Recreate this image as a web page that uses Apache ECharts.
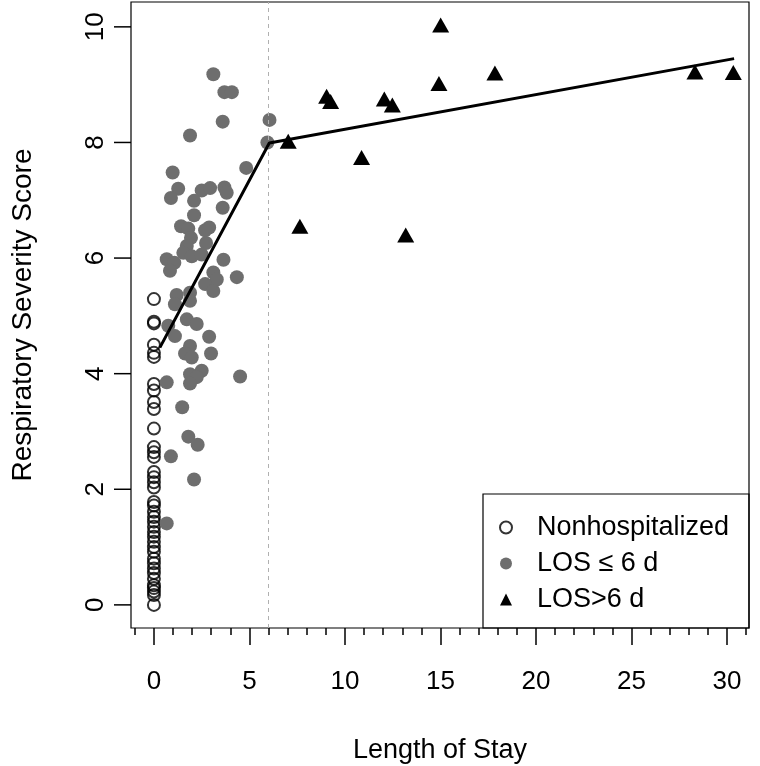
<!DOCTYPE html>
<html>
<head>
    <meta charset="utf-8">
    <title>Respiratory Severity Score vs Length of Stay</title>
    <style>
        body { margin: 0; background: #fff; }
        #chart { width: 760px; height: 766px; }
    </style>
</head>
<body>
<div id="chart"></div>
<script src="https://cdn.jsdelivr.net/npm/echarts@6/dist/echarts.min.js"></script>
<script>
    // open circles, all at LOS = 0
    var nonHospY = [5.29, 4.9, 4.87, 4.5, 4.36, 4.29, 3.82, 3.71, 3.51, 3.39, 3.05, 2.73, 2.64, 2.56,
        2.30, 2.21, 2.12, 2.03, 1.78, 1.72, 1.61, 1.52, 1.44, 1.35, 1.26, 1.18, 1.09, 1.0, 0.92,
        0.80, 0.72, 0.63, 0.55, 0.45, 0.34, 0.29, 0.23, 0.17, 0.0];

    // LOS <= 6 d
    var shortX = [3.11, 3.69, 4.08, 3.60, 6.05, 1.89, 5.94, 4.83, 0.98, 1.27, 2.50, 2.94, 3.69, 3.81, 0.89, 2.10,
        3.60, 2.10, 1.42, 1.80, 2.89, 2.68, 1.94, 2.73, 1.72, 1.54, 1.98, 2.50, 0.67, 1.07, 3.64, 0.84,
        3.11, 4.34, 3.29, 2.68, 3.11, 1.19, 1.89, 1.10, 1.89, 0.75, 1.72, 2.24, 1.10, 2.89, 1.89, 2.99,
        1.63, 1.98, 1.89, 2.50, 2.24, 1.89, 0.67, 4.51, 1.48, 1.80, 2.29, 0.89, 2.10, 0.67];
    var shortY = [9.18, 8.87, 8.87, 8.36, 8.39, 8.12, 8.0, 7.56, 7.48, 7.2, 7.17, 7.21, 7.22, 7.13, 7.04, 6.99,
        6.87, 6.74, 6.55, 6.51, 6.53, 6.48, 6.35, 6.26, 6.21, 6.09, 6.03, 6.06, 5.98, 5.92, 5.97, 5.78,
        5.75, 5.67, 5.63, 5.55, 5.43, 5.36, 5.40, 5.2, 5.26, 4.83, 4.94, 4.86, 4.65, 4.64, 4.48, 4.35,
        4.35, 4.28, 3.99, 4.05, 3.94, 3.83, 3.85, 3.95, 3.42, 2.91, 2.77, 2.57, 2.17, 1.41];

    // LOS > 6 d
    var longX = [15.01, 17.85, 28.32, 30.33, 14.92, 9.04, 9.25, 12.06, 12.48, 7.03, 10.87, 7.64, 13.18];
    var longY = [10.03, 9.2, 9.22, 9.21, 9.02, 8.8, 8.71, 8.75, 8.65, 8.02, 7.74, 6.55, 6.4];

    // piecewise fit
    var fitX = [0.31, 6.04, 30.37];
    var fitY = [4.45, 7.99, 9.45];

    var majorTicks = [0, 5, 10, 15, 20, 25, 30];
    var minorTicks = [];
    for (var t = -1; t <= 31; t++) minorTicks.push(t);
    var yTicks = [0, 2, 4, 6, 8, 10];

    var xMin = -1.2, xMax = 31.15;
    var yMin = -0.4, yMax = 10.43;

    function pairs(xs, ys) {
        return ys.map(function (y, i) { return [xs === null ? 0 : xs[i], y]; });
    }

    var font = 'Liberation Sans, Arial, Helvetica, sans-serif';
    var chart = echarts.init(document.getElementById('chart'));

    var noLine = { show: false, onZero: false };

    // one axis per job: labels, long ticks, short ticks
    function xAxisPart(extra) {
        return Object.assign({
            type: 'value', min: xMin, max: xMax, position: 'bottom',
            axisLine: noLine, splitLine: { show: false },
            axisTick: { show: false }, axisLabel: { show: false }
        }, extra);
    }

    chart.setOption({
        animation: false,
        backgroundColor: '#fff',
        textStyle: { fontFamily: font, color: '#000' },
        grid: {
            left: 131, right: 11, top: 2, bottom: 138,
            outerBoundsMode: 'none',
            containLabel: false,
            show: true, borderColor: '#000', borderWidth: 1.2
        },
        xAxis: [
            xAxisPart({
                name: 'Length of Stay',
                nameLocation: 'middle',
                nameGap: 109,
                nameTextStyle: { fontSize: 27, color: '#000', fontFamily: font },
                axisLabel: { show: true, customValues: majorTicks, fontSize: 26, color: '#000', margin: 41, fontFamily: font }
            }),
            xAxisPart({ axisTick: { show: true, length: 17, customValues: majorTicks, lineStyle: { color: '#000', width: 1.5 } } }),
            xAxisPart({ axisTick: { show: true, length: 7, customValues: minorTicks, lineStyle: { color: '#000', width: 1.5 } } })
        ],
        yAxis: {
            type: 'value', min: yMin, max: yMax, position: 'left',
            axisLine: noLine, splitLine: { show: false },
            axisTick: { show: false },
            name: 'Respiratory Severity Score',
            nameLocation: 'middle',
            nameGap: 94,
            nameTextStyle: { fontSize: 28, color: '#000', fontFamily: font },
            axisLabel: { show: true, customValues: yTicks, fontSize: 26, color: '#000', rotate: 90, margin: 22, fontFamily: font }
        },
        legend: {
            orient: 'vertical',
            left: 494, top: 509,
            itemWidth: 12, itemHeight: 12,
            itemGap: 9,
            selectedMode: false,
            textStyle: { fontSize: 27, color: '#000', lineHeight: 27, padding: [0, 0, 0, 20], fontFamily: font },
            data: [
                { name: 'Nonhospitalized', icon: 'circle' },
                { name: 'LOS \u2264 6 d', icon: 'circle' },
                { name: 'LOS>6 d', icon: 'triangle' }
            ]
        },
        graphic: [{
            type: 'rect',
            shape: { x: 483, y: 494, width: 266, height: 134 },
            style: { fill: 'none', stroke: '#000', lineWidth: 1.2 },
            z: 100
        }],
        series: [{
            name: 'Nonhospitalized',
            type: 'scatter',
            symbol: 'circle',
            symbolSize: 12,
            itemStyle: { color: 'rgba(0,0,0,0)', borderColor: '#000', borderWidth: 2 },
            data: pairs(null, nonHospY)
        }, {
            name: 'LOS \u2264 6 d',
            type: 'scatter',
            symbol: 'circle',
            symbolSize: 14,
            itemStyle: { color: '#6e6e6e', opacity: 1 },
            data: pairs(shortX, shortY)
        }, {
            name: 'LOS>6 d',
            type: 'scatter',
            symbol: 'triangle',
            symbolSize: [17, 15],
            itemStyle: { color: '#000', opacity: 1 },
            data: pairs(longX, longY)
        }, {
            name: 'fit',
            type: 'line',
            symbol: 'none',
            z: 5,
            lineStyle: { color: '#000', width: 3 },
            data: pairs(fitX, fitY),
            markLine: {
                silent: true,
                symbol: ['none', 'none'],
                label: { show: false },
                lineStyle: { color: '#b0b0b0', type: [4, 4], width: 1 },
                data: [{ xAxis: 6 }]
            }
        }, {
            // y-axis tick marks, placed through the y scale at the left edge of the box
            name: 'yTicks',
            type: 'custom',
            silent: true,
            clip: false,
            z: 10,
            data: yTicks.map(function (v) { return [xMin, v]; }),
            renderItem: function (params, api) {
                var p = api.coord([api.value(0), api.value(1)]);
                return {
                    type: 'line',
                    shape: { x1: p[0] - 17, y1: p[1], x2: p[0], y2: p[1] },
                    style: { stroke: '#000', lineWidth: 1.5 }
                };
            }
        }]
    });
</script>
</body>
</html>
